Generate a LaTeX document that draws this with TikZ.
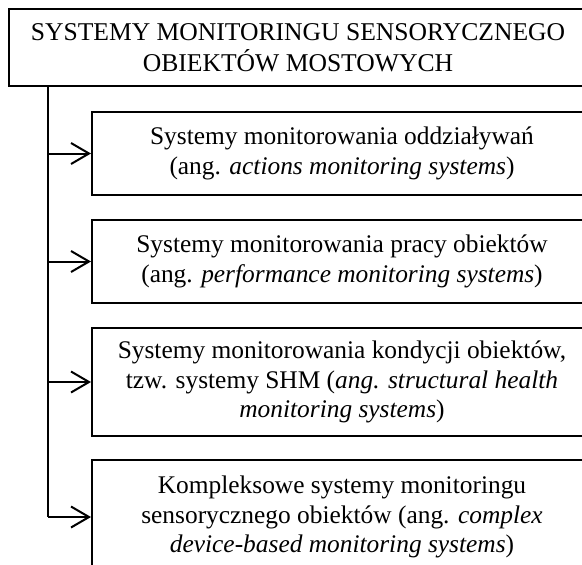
\documentclass[tikz,border=0pt]{standalone}
\usepackage{fontspec}
\setmainfont{Liberation Serif}
\usetikzlibrary{arrows.meta}
\begin{document}
\begin{tikzpicture}[x=0.5pt,y=-0.5pt,
  box/.style={draw,line width=1pt,inner sep=0pt,align=center,
    font=\fontsize{12.7}{14.8}\selectfont},
  link/.style={line width=1pt,-{Straight Barb[length=9pt,width=10.5pt,line width=1pt]}}]
\useasboundingbox (0,0) rectangle (582,564);
\clip (0,0) rectangle (582,564);
\node[box,minimum width=289pt,minimum height=38.5pt,
  font=\fontsize{12.8}{15.5}\selectfont] (title) at (298,47.5)
  {SYSTEMY MONITORINGU SENSORYCZNEGO\\OBIEKTÓW MOSTOWYCH};
\node[box,minimum width=250pt,minimum height=41.5pt] (b1) at (342,153.5)
  {Systemy monitorowania oddziaływań\\(ang. \textit{actions monitoring systems})};
\node[box,minimum width=250pt,minimum height=41.5pt] (b2) at (342,261.5)
  {Systemy monitorowania pracy obiektów\\(ang. \textit{performance monitoring systems})};
\node[box,minimum width=250pt,minimum height=54pt] (b3) at (342,382)
  {Systemy monitorowania kondycji obiektów,\\tzw. systemy SHM (\textit{ang. structural health}\\\textit{monitoring systems})};
\node[box,minimum width=250pt,minimum height=57pt] (b4) at (342,517)
  {Kompleksowe systemy monitoringu\\sensorycznego obiektów (ang. \textit{complex}\\\textit{device-based monitoring systems})};
\coordinate (trunk) at (48,86);
\draw[line width=1pt] (trunk) -- (trunk |- b4.west);
\draw[link] (b1.west -| trunk) -- (b1.west);
\draw[link] (b2.west -| trunk) -- (b2.west);
\draw[link] (b3.west -| trunk) -- (b3.west);
\draw[link] (trunk |- b4.west) -- (b4.west);
\end{tikzpicture}
\end{document}
